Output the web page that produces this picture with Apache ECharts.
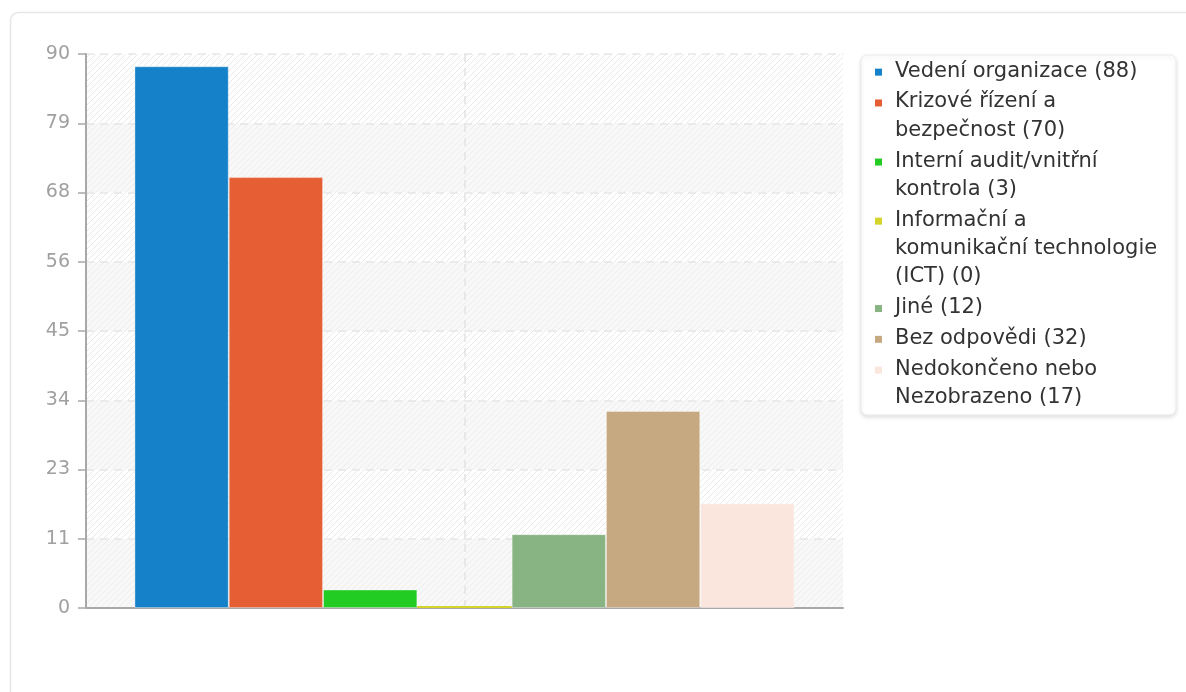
<!DOCTYPE html>
<html><head><meta charset="utf-8">
<script src="https://cdn.jsdelivr.net/npm/echarts@6/dist/echarts.min.js"></script>
<style>html,body{margin:0;padding:0;background:#fff;}#c{width:1186px;height:692px;}</style>
</head><body><div id="c"></div>
<script>
// ---- data ----
const seriesNames = ['Vedení organizace', 'Krizové řízení a bezpečnost', 'Interní audit/vnitřní kontrola', 'Informační a komunikační technologie (ICT)', 'Jiné', 'Bez odpovědi', 'Nedokončeno nebo Nezobrazeno'];
const seriesValues = [88, 70, 3, 0, 12, 32, 17];
const legendLabels = ['Vedení organizace (88)', 'Krizové řízení a\nbezpečnost (70)', 'Interní audit/vnitřní\nkontrola (3)', 'Informační a\nkomunikační technologie\n(ICT) (0)', 'Jiné (12)', 'Bez odpovědi (32)', 'Nedokončeno nebo\nNezobrazeno (17)'];
const seriesColors = ['#1481c8', '#e65f34', '#22cc22', '#d4d42a', '#88b484', '#c7a981', '#fbe6de'];
const categories = [''];

// ---- patterns ----
function hatch(bg, line) {
  const c = document.createElement('canvas');
  c.width = 6; c.height = 6;
  const g = c.getContext('2d');
  g.fillStyle = bg; g.fillRect(0, 0, 6, 6);
  g.strokeStyle = line; g.lineWidth = 1;
  g.beginPath();
  g.moveTo(-1, 7); g.lineTo(7, -1);
  g.moveTo(-1, 1); g.lineTo(1, -1);
  g.moveTo(5, 7); g.lineTo(7, 5);
  g.stroke();
  return { image: c, repeat: 'repeat' };
}

const chart = echarts.init(document.getElementById('c'), null, { renderer: 'canvas' });
const FONT = 'DejaVu Sans';
const LH = 28.3, GAP = 2.5, TOP0 = 57;

const legends = [];
let legTop = TOP0;
legendLabels.forEach((lab, i) => {
  const n = lab.split('\n').length;
  const H = n * LH;
  const a = LH / 2 - 3.5 + 1;
  legends.push({
    data: [{ name: seriesNames[i], icon: 'path://M0,0 M15,' + H + ' M0,' + a + ' L7,' + a + ' L7,' + (a + 7) + ' L0,' + (a + 7) + ' Z' }],
    left: 875, top: legTop, orient: 'vertical', padding: 0,
    itemWidth: 15, itemHeight: H,
    itemStyle: { borderWidth: 0 },
    formatter: () => lab,
    textStyle: { fontFamily: FONT, fontSize: 21, color: '#333', lineHeight: LH }
  });
  legTop += H + GAP;
});

const series = seriesNames.map((name, i) => ({
  name: name,
  type: 'bar',
  data: [seriesValues[i]],
  barGap: '0%',
  barCategoryGap: '12.8%',
  barMinHeight: seriesValues[i] === 0 ? 2 : 0,
  itemStyle: { color: seriesColors[i], borderColor: 'rgba(255,255,255,0.35)', borderWidth: seriesValues[i] === 0 ? 0 : 1 }
}));

chart.setOption({
  animation: false,
  graphic: [
    { type: 'rect', z: -10, shape: { x: 10.5, y: 12.5, width: 1200, height: 720, r: 8 }, style: { fill: '#fff', stroke: '#e6e6e6', lineWidth: 1.5 } },
    { type: 'rect', z: -5, shape: { x: 861, y: 55, width: 315, height: 360, r: 6 }, style: { fill: '#fff', stroke: '#ececec', lineWidth: 1, shadowBlur: 4, shadowOffsetY: 2, shadowColor: 'rgba(0,0,0,0.12)' } }
  ],
  legend: legends,
  grid: { left: 86, right: 343, top: 54, bottom: 84, containLabel: false },
  xAxis: [{
    type: 'category', data: categories,
    axisLine: { show: true, lineStyle: { color: '#a8a8a8', width: 2 } },
    axisTick: { show: false }, axisLabel: { show: false }, splitLine: { show: false }
  }, {
    type: 'category', data: ['', '', ''], boundaryGap: false, position: 'top',
    axisLine: { show: false }, axisTick: { show: false }, axisLabel: { show: false },
    splitLine: { show: true, interval: (idx) => idx === 1, lineStyle: { color: '#e2e2e2', type: [8, 6], width: 1.5 } }
  }],
  yAxis: {
    type: 'value', min: 0, max: 90, interval: 11.25,
    axisLine: { show: true, lineStyle: { color: '#a8a8a8', width: 2 } },
    axisTick: { show: true, length: 8, lineStyle: { color: '#a8a8a8', width: 1.5 } },
    axisLabel: { margin: 16, color: '#a0a0a0', fontFamily: FONT, fontSize: 19, formatter: v => String(Math.round(v)) },
    splitLine: { show: true, lineStyle: { color: '#e6e6e6', type: [8, 6], width: 1.5 } },
    splitArea: { show: true, areaStyle: { color: [hatch('#f8f8f8', '#ececec'), hatch('#ffffff', '#e9e9e9')] } }
  },
  series: series
});
</script></body></html>
